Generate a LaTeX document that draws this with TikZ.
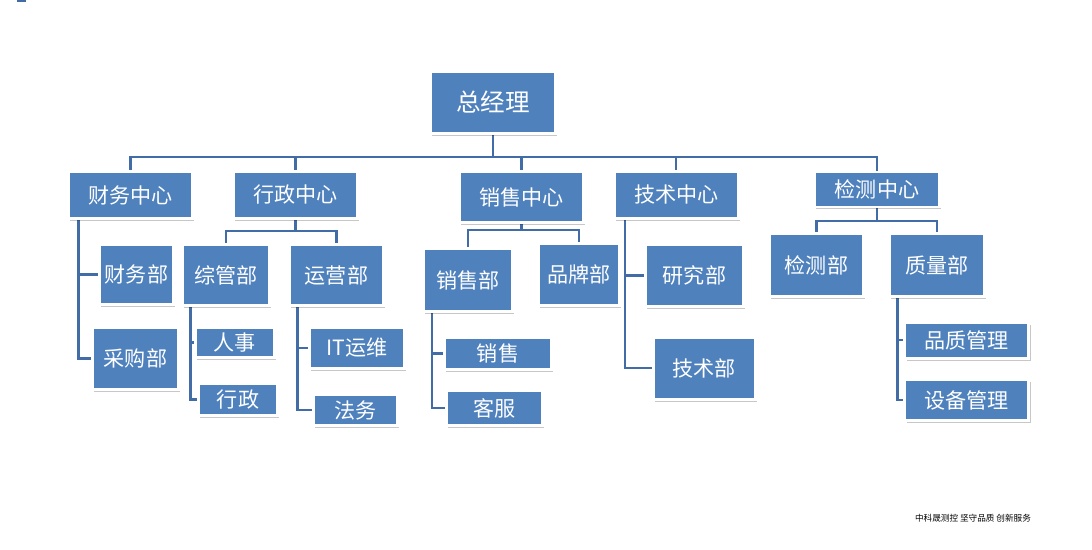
\documentclass[tikz,border=0pt]{standalone}
\usepackage{fontspec}
\newfontfamily\cjk{Noto Sans CJK SC}
\usetikzlibrary{calc,shadows,backgrounds}
\definecolor{boxblue}{RGB}{79,129,189}
\definecolor{linkblue}{RGB}{65,108,165}
\tikzset{
  unit/.style={rectangle, fill=boxblue, draw=white, line width=1.7pt, inner sep=0pt,
    text=white, font=\cjk\fontsize{12}{14}\selectfont,
    drop shadow={shadow xshift=1.1pt, shadow yshift=-1.4pt, fill=black, opacity=0.22}},
  boxsize/.style 2 args={minimum width=#1cm, minimum height=#2cm},
  link/.style={draw=linkblue, line width=1.3pt}
}
\begin{document}
\begin{tikzpicture}[x=0.02cm, y=-0.02cm]
    \useasboundingbox (0,0) rectangle (1092,550);
    \fill[linkblue] (17,0) rectangle (26,2.5);
    % top level
    \node[unit, boxsize={2.50}{1.24}, font=\cjk\fontsize{14}{16}\selectfont] (root) at (493,102.5) {总经理};
    \node[unit, boxsize={2.48}{0.94}] (cw) at (130.5,195) {财务中心};
    \node[unit, boxsize={2.48}{0.94}] (xz) at (295.5,195) {行政中心};
    \node[unit, boxsize={2.48}{1.02}] (xs) at (521.5,197) {销售中心};
    \node[unit, boxsize={2.48}{0.94}] (js) at (676.3,195) {技术中心};
    \node[unit, boxsize={2.50}{0.70}] (jc) at (877,189.5) {检测中心};
    % departments
    \node[unit, boxsize={1.48}{1.20}] (cwb) at (136.5,274.5) {财务部};
    \node[unit, boxsize={1.72}{1.24}] (cg) at (135.5,358.5) {采购部};
    \node[unit, boxsize={1.74}{1.22}] (zg) at (226,275) {综管部};
    \node[unit, boxsize={1.88}{1.22}] (yy) at (336.5,275) {运营部};
    \node[unit, boxsize={1.78}{1.26}] (xsb) at (468,280) {销售部};
    \node[unit, boxsize={1.62}{1.24}] (pp) at (579,274.5) {品牌部};
    \node[unit, boxsize={1.96}{1.24}] (yj) at (694.5,275.5) {研究部};
    \node[unit, boxsize={2.04}{1.24}] (jsb) at (704.3,368.3) {技术部};
    \node[unit, boxsize={1.88}{1.26}] (jcb) at (816.5,265) {检测部};
    \node[unit, boxsize={1.90}{1.26}] (zl) at (936.8,265) {质量部};
    % sections
    \node[unit, boxsize={1.58}{0.60}] (rs) at (234.7,342.5) {人事};
    \node[unit, boxsize={1.58}{0.64}] (xzb) at (238,399.5) {行政};
    \node[unit, boxsize={1.90}{0.82}] (it) at (357,348) {IT运维};
    \node[unit, boxsize={1.68}{0.62}] (fw) at (355.3,410) {法务};
    \node[unit, boxsize={2.14}{0.64}] (xsx) at (498,353.5) {销售};
    \node[unit, boxsize={1.92}{0.70}] (kf) at (494.3,408) {客服};
    \node[unit, boxsize={2.48}{0.72}] (pz) at (966.7,340.3) {品质管理};
    \node[unit, boxsize={2.48}{0.82}] (sb) at (966.7,400.2) {设备管理};
    \node[font=\cjk\fontsize{4.9}{6}\selectfont] (motto) at (973,518) {中科晟测控 坚守品质 创新服务};
    % connectors
    \begin{scope}[on background layer]
        \coordinate (bus) at (0,157);
        \coordinate (xzbus) at (0,230.7);
        \coordinate (xsbus) at (0,230);
        \coordinate (jcbus) at (0,220.7);
        \foreach \c in {cw,xz,xs,js,jc}
            \draw[link] (root.south) |- (bus -| \c) -- (\c.north);
        \foreach \c in {zg,yy}
            \draw[link] (xz.south) |- (xzbus -| \c) -- (\c.north);
        \foreach \c in {xsb,pp}
            \draw[link] (xs.south) |- (xsbus -| \c) -- (\c.north);
        \foreach \c in {jcb,zl}
            \draw[link] (jc.south) |- (jcbus -| \c) -- (\c.north);
        \foreach \c in {cwb,cg}
            \draw[link] ($(cw.south west)+(11.5,0)$) |- (\c.west);
        \foreach \c in {rs,xzb}
            \draw[link] ($(zg.south west)+(9.5,0)$) |- (\c.west);
        \foreach \c in {it,fw}
            \draw[link] ($(yy.south west)+(9.5,0)$) |- (\c.west);
        \foreach \c in {xsx,kf}
            \draw[link] ($(xsb.south west)+(9.8,0)$) |- (\c.west);
        \foreach \c in {yj,jsb}
            \draw[link] ($(js.south west)+(12.5,0)$) |- (\c.west);
        \foreach \c in {pz,sb}
            \draw[link] ($(zl.south west)+(9.8,0)$) |- (\c.west);
    \end{scope}
\end{tikzpicture}
\end{document}
